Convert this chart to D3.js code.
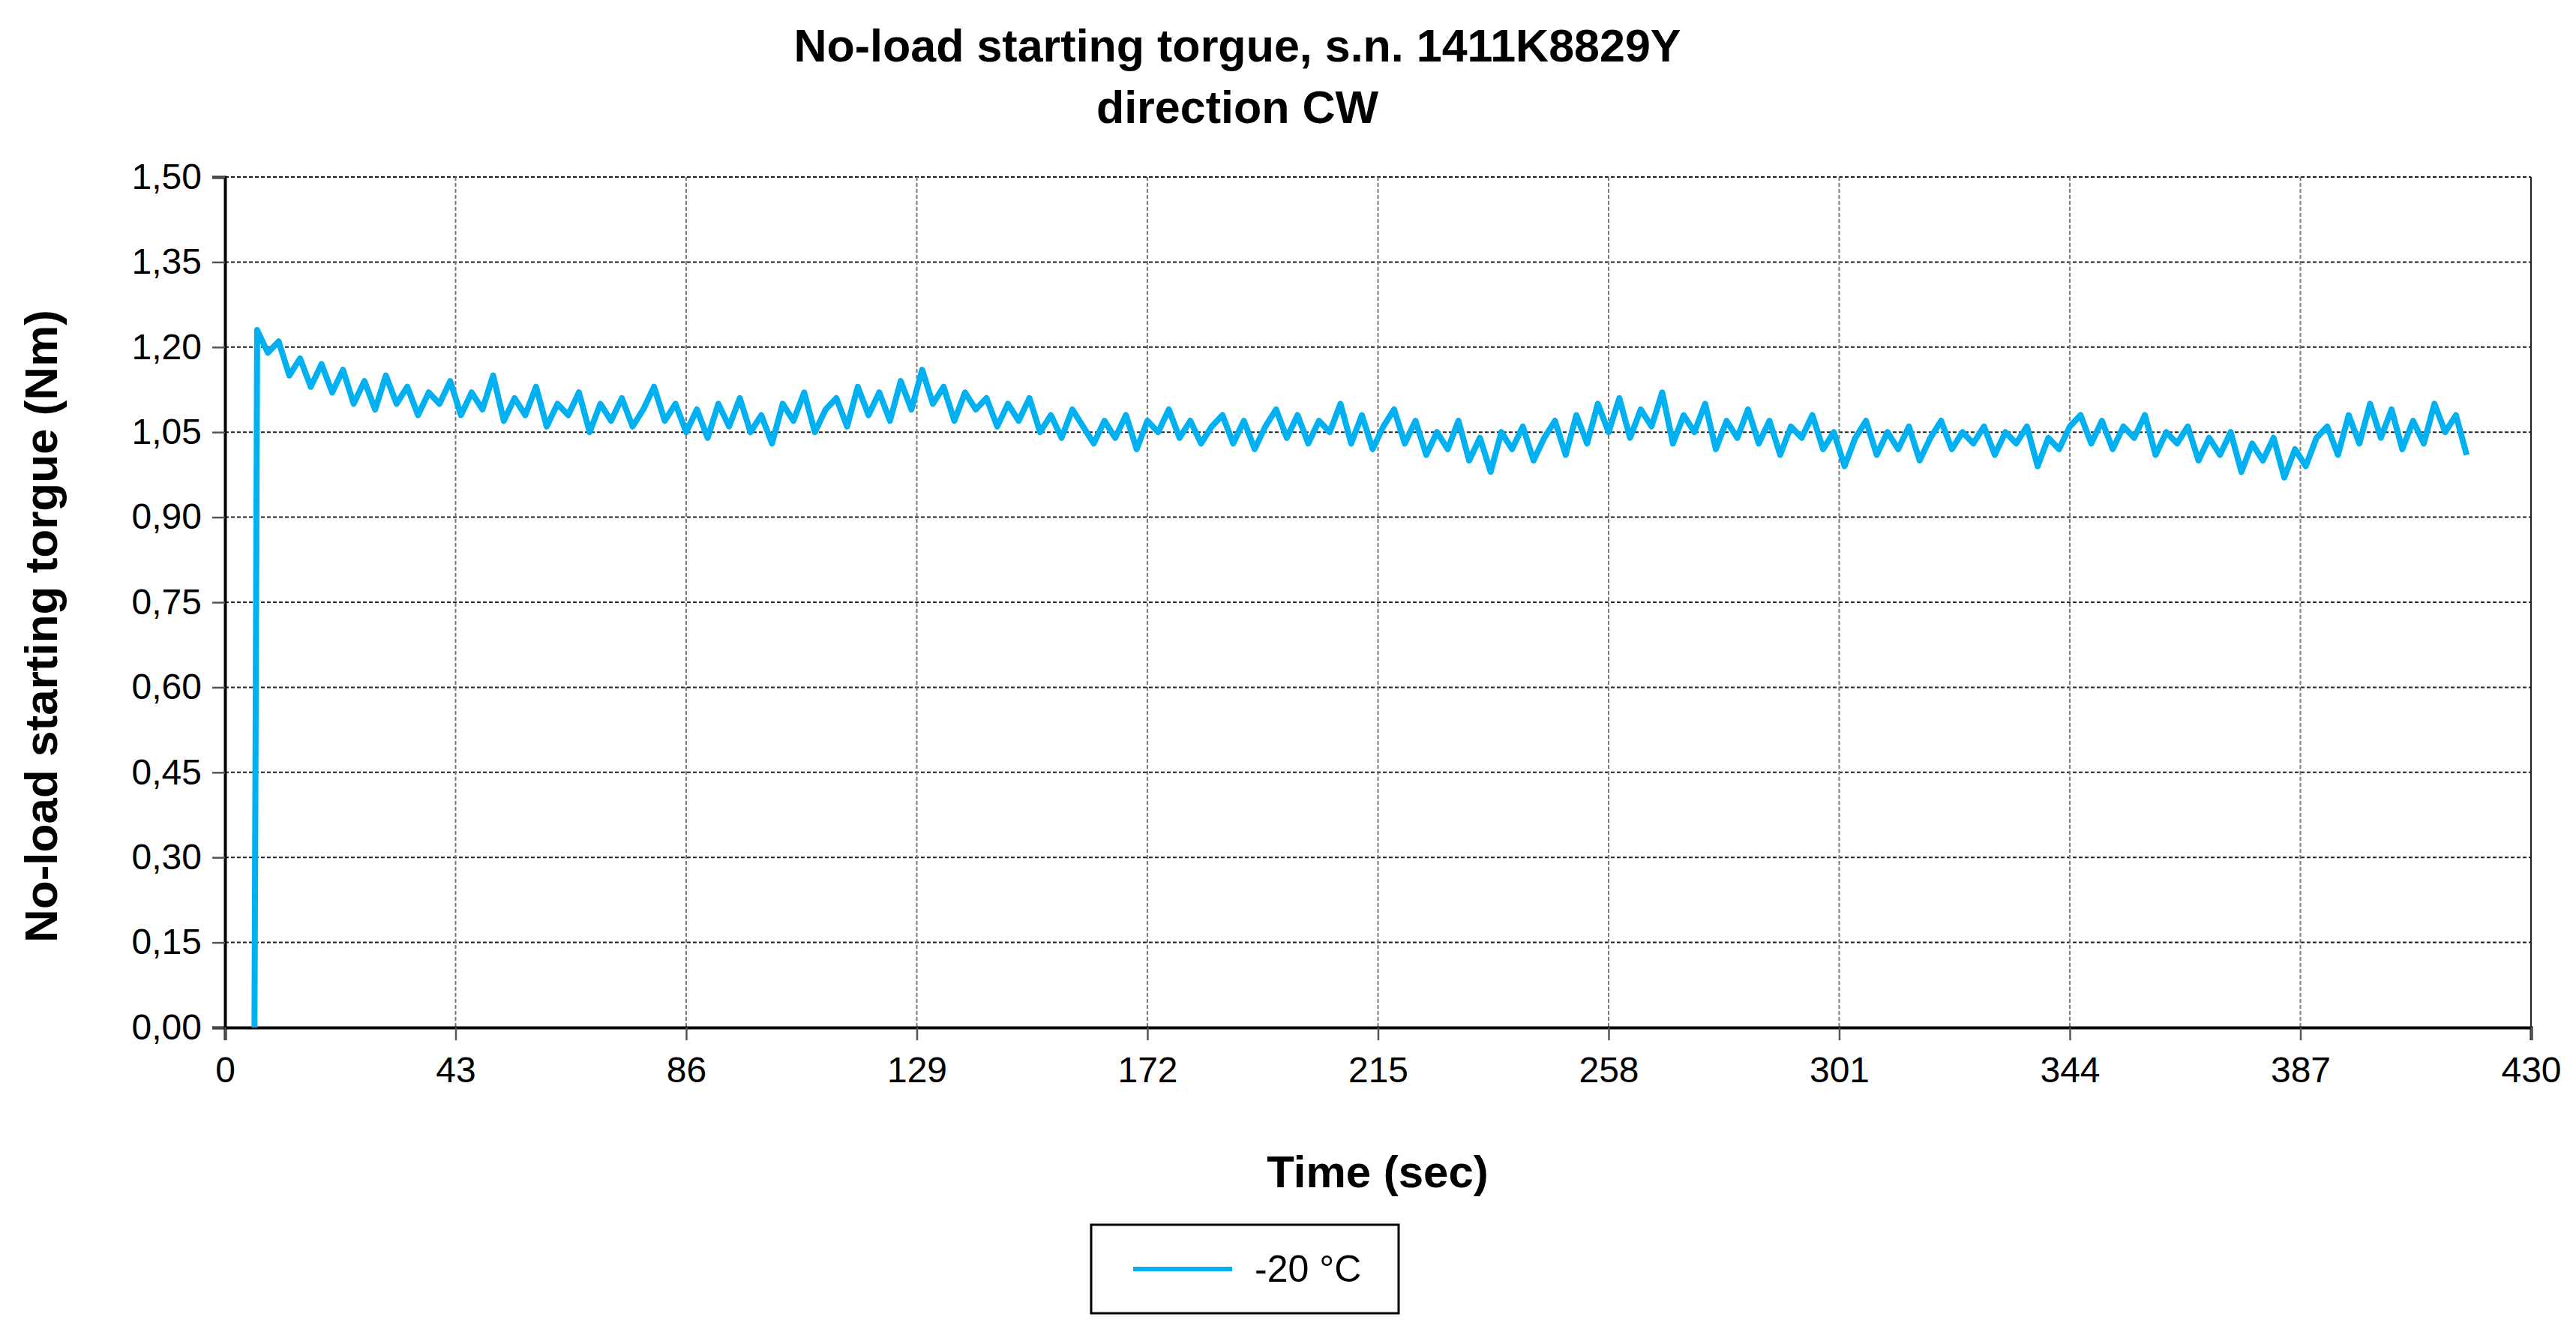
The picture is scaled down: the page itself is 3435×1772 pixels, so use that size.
<!DOCTYPE html>
<html><head><meta charset="utf-8">
<script src="https://cdn.jsdelivr.net/npm/d3@7"></script>
<style>body{margin:0;background:#fff}text{font-family:Arial,"Liberation Sans",sans-serif}</style>
</head><body><div id="chart"></div>
<script>
var titleLines = ["No-load starting torgue, s.n. 1411K8829Y", "direction CW"];
var xTicks = [0,43,86,129,172,215,258,301,344,387,430];
var yTicks = [0,0.15,0.30,0.45,0.60,0.75,0.90,1.05,1.20,1.35,1.50];
var seriesName = "-20 °C";
// onset of the trace (sec, Nm)
var startTime = [5.5, 6];
var startValue = [0, 1.23];
// torque samples every 2 s from t = 8 s
var sampleStart = 8, sampleStep = 2;
var torque = [
 1.19,1.21,1.15,1.18,1.13,1.17,1.12,1.16,1.10,
 1.14,1.09,1.15,1.10,1.13,1.08,1.12,1.10,1.14,1.08,
 1.12,1.09,1.15,1.07,1.11,1.08,1.13,1.06,1.10,1.08,
 1.12,1.05,1.10,1.07,1.11,1.06,1.09,1.13,1.07,1.10,
 1.05,1.09,1.04,1.10,1.06,1.11,1.05,1.08,1.03,1.10,
 1.07,1.12,1.05,1.09,1.11,1.06,1.13,1.08,1.12,1.07,
 1.14,1.09,1.16,1.10,1.13,1.07,1.12,1.09,1.11,1.06,
 1.10,1.07,1.11,1.05,1.08,1.04,1.09,1.06,1.03,1.07,
 1.04,1.08,1.02,1.07,1.05,1.09,1.04,1.07,1.03,1.06,
 1.08,1.03,1.07,1.02,1.06,1.09,1.04,1.08,1.03,1.07,
 1.05,1.10,1.03,1.08,1.02,1.06,1.09,1.03,1.07,1.01,
 1.05,1.02,1.07,1.00,1.04,0.98,1.05,1.02,1.06,1.00,
 1.04,1.07,1.01,1.08,1.03,1.10,1.05,1.11,1.04,1.09,
 1.06,1.12,1.03,1.08,1.05,1.10,1.02,1.07,1.04,1.09,
 1.03,1.07,1.01,1.06,1.04,1.08,1.02,1.05,0.99,1.04,
 1.07,1.01,1.05,1.02,1.06,1.00,1.04,1.07,1.02,1.05,
 1.03,1.06,1.01,1.05,1.03,1.06,0.99,1.04,1.02,1.06,
 1.08,1.03,1.07,1.02,1.06,1.04,1.08,1.01,1.05,1.03,
 1.06,1.00,1.04,1.01,1.05,0.98,1.03,1.00,1.04,0.97,
 1.02,0.99,1.04,1.06,1.01,1.08,1.03,1.10,1.04,1.09,
 1.02,1.07,1.03,1.10,1.05,1.08,1.01
];

var W = 3435, H = 1772;
var m = {left:300, right:3375, top:236, bottom:1370};
var svg = d3.select("#chart").append("svg").attr("width",W).attr("height",H);

var x = d3.scaleLinear().domain([0,430]).range([m.left,m.right]);
var y = d3.scaleLinear().domain([0,1.5]).range([m.bottom,m.top]);
var fmt = function(d){ return d3.format(".2f")(d).replace(".",","); };

// title
svg.append("g").selectAll("text").data(titleLines).enter().append("text")
  .attr("x",1650).attr("y",function(d,i){return 82+i*82;})
  .attr("text-anchor","middle").attr("font-size",61).attr("font-weight","bold")
  .text(function(d){return d;});

// grid
svg.append("g").selectAll("line").data(yTicks.slice(1)).enter().append("line")
  .attr("x1",m.left).attr("x2",m.right).attr("y1",y).attr("y2",y)
  .attr("stroke","#222").attr("stroke-width",2).attr("stroke-dasharray","5,3");
svg.append("g").selectAll("line").data(xTicks.slice(1)).enter().append("line")
  .attr("x1",x).attr("x2",x).attr("y1",m.top).attr("y2",m.bottom)
  .attr("stroke","#777").attr("stroke-width",2).attr("stroke-dasharray","5,3");

// axes
var yAxis = svg.append("g").attr("transform","translate("+m.left+",0)")
  .call(d3.axisLeft(y).tickValues(yTicks).tickFormat(fmt).tickSize(17).tickPadding(14));
var xAxis = svg.append("g").attr("transform","translate(0,"+m.bottom+")")
  .call(d3.axisBottom(x).tickValues(xTicks).tickSize(17).tickPadding(22));
[yAxis,xAxis].forEach(function(a){
  a.select(".domain").attr("stroke","#000").attr("stroke-width",4);
  a.selectAll(".tick line").attr("stroke","#555").attr("stroke-width",2.5);
  a.selectAll("text").attr("font-size",48).attr("fill","#000").attr("font-family","Arial,'Liberation Sans',sans-serif");
});
svg.append("line").attr("x1",m.right).attr("x2",m.right).attr("y1",m.top).attr("y2",m.bottom).attr("stroke","#222").attr("stroke-width",2);

// axis titles
svg.append("text").attr("x",1837).attr("y",1583).attr("text-anchor","middle")
  .attr("font-size",60).attr("font-weight","bold").text("Time (sec)");
svg.append("text").attr("transform","translate(76,835) rotate(-90)").attr("text-anchor","middle")
  .attr("font-size",62).attr("font-weight","bold").text("No-load starting torgue (Nm)");

// series
var pts = startTime.map(function(t,i){return [t,startValue[i]];});
torque.forEach(function(v,i){ pts.push([sampleStart+i*sampleStep, v]); });
var line = d3.line().x(function(d){return x(d[0]);}).y(function(d){return y(d[1]);});
svg.append("path").datum(pts).attr("d",line).attr("fill","none")
  .attr("stroke","#00B0F0").attr("stroke-width",8).attr("stroke-linejoin","round");

// legend
var lg = svg.append("g").attr("transform","translate(1455,1633)");
lg.append("rect").attr("width",410).attr("height",118).attr("fill","#fff").attr("stroke","#000").attr("stroke-width",3);
lg.append("line").attr("x1",56).attr("x2",188).attr("y1",59).attr("y2",59).attr("stroke","#00B0F0").attr("stroke-width",6);
lg.append("text").attr("x",218).attr("y",76).attr("font-size",50).text(seriesName);
</script></body></html>
